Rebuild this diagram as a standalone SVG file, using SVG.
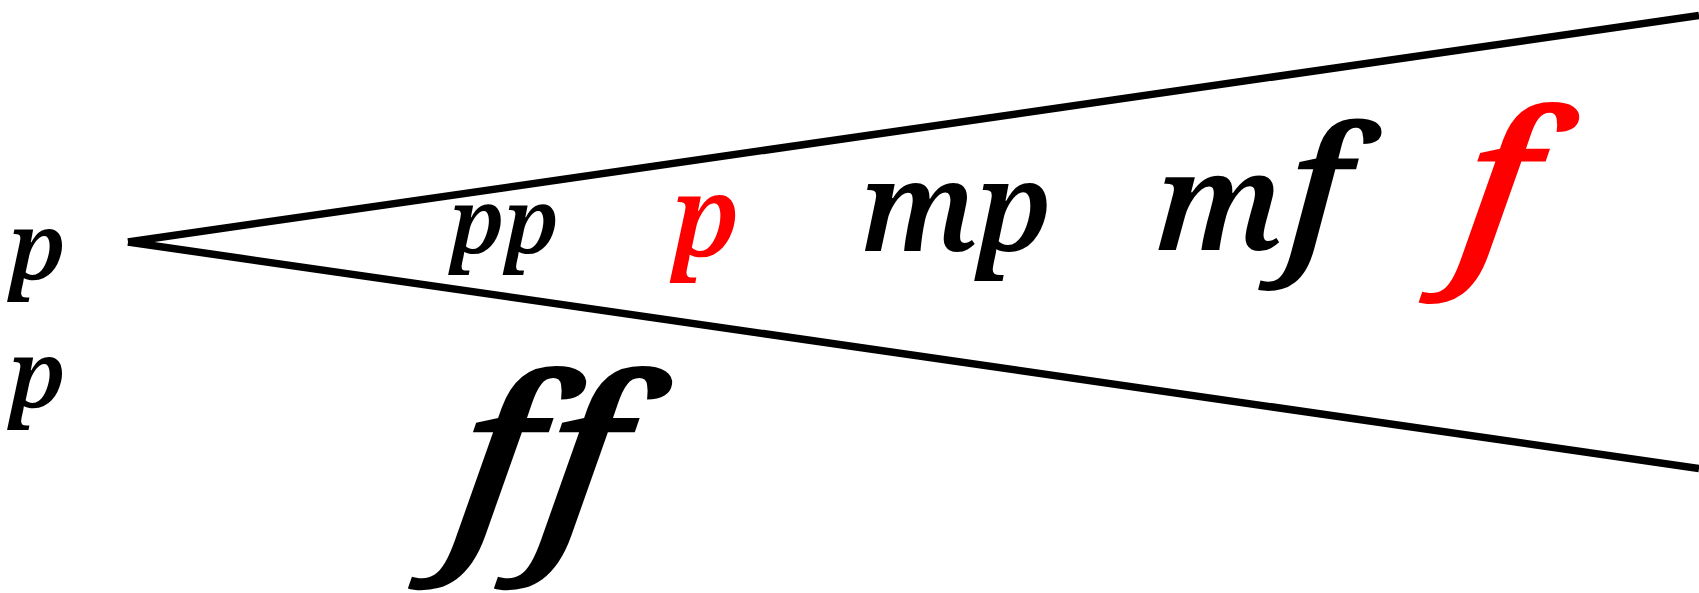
<svg xmlns="http://www.w3.org/2000/svg" width="1699" height="593" viewBox="0 0 1699 593">
<style>
.dyn{font-family:"Noto Serif","Liberation Serif",serif;font-style:italic;font-weight:600;fill:#000;font-variant-ligatures:none}
.red{fill:#ff0000}
.hp{stroke:#000;stroke-width:7.5;fill:none;stroke-linecap:butt}
</style>
<rect width="1699" height="593" fill="#fff"/>
<g id="connectors">
<line class="hp" x1="128" y1="242" x2="1699" y2="15.5"/>
<line class="hp" x1="128" y1="242" x2="1699" y2="468.5"/>
</g>
<g id="p-left-1"><text class="dyn" x="9" y="280" font-size="94">p</text></g>
<g id="p-left-2"><text class="dyn" x="9" y="408" font-size="94">p</text></g>
<g id="pp"><text class="dyn" x="450" y="253" font-size="90">pp</text></g>
<g id="p-red"><text class="dyn red" x="672" y="256" font-size="112">p</text></g>
<g id="mp"><text class="dyn" x="860" y="251" font-size="124">mp</text></g>
<g id="mf"><text class="dyn" transform="translate(1153,250) skewX(-3)" x="0" y="0"><tspan font-size="136">m</tspan><tspan x="131" font-size="171">f</tspan></text></g>
<g id="f-red"><text class="dyn red" transform="translate(1453,256) skewX(-8)" x="0" y="0" font-size="200">f</text></g>
<g id="ff"><text class="dyn" transform="translate(0,537) skewX(-8)" y="0" font-size="222"><tspan x="446">f</tspan><tspan x="532">f</tspan></text></g>
</svg>
